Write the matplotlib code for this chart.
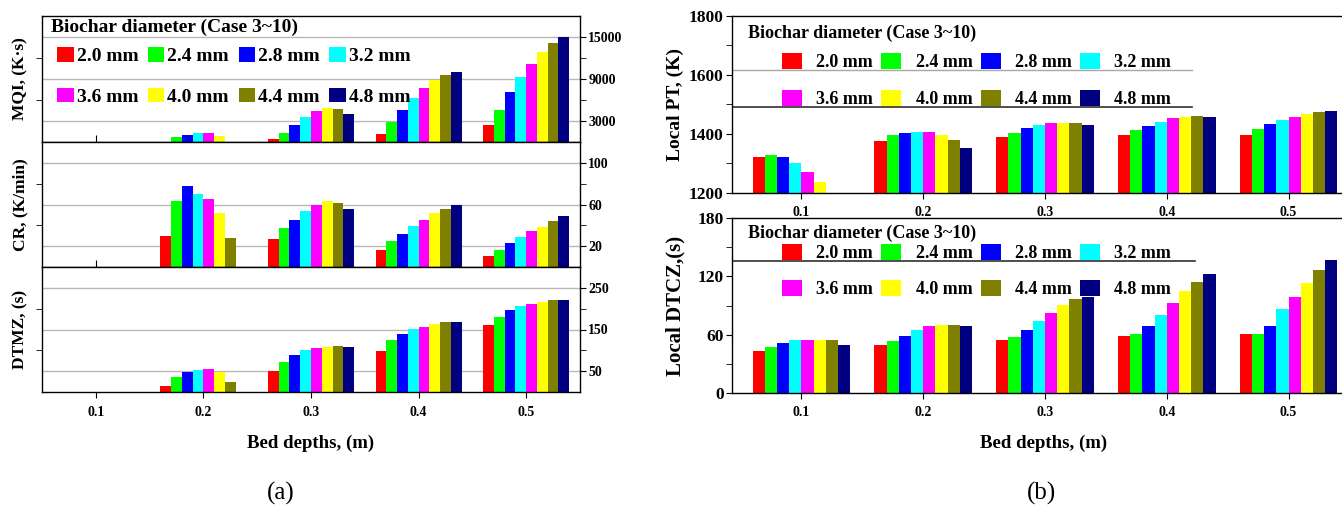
import numpy as np
import matplotlib.pyplot as plt
from matplotlib.ticker import FixedLocator

plt.rcParams['font.family'] = ['Liberation Serif', 'DejaVu Serif']
plt.rcParams['font.weight'] = 'bold'
plt.rcParams['axes.labelweight'] = 'bold'
plt.rcParams['axes.linewidth'] = 1.0

# bed depths (m) and biochar diameters (Case 3~10)
depths = ['0.1', '0.2', '0.3', '0.4', '0.5']
diameters = ['2.0 mm', '2.4 mm', '2.8 mm', '3.2 mm', '3.6 mm', '4.0 mm', '4.4 mm', '4.8 mm']
colors = ['#ff0000', '#00ff00', '#0000ff', '#00ffff', '#ff00ff', '#ffff00', '#808000', '#000080']

nan = np.nan

# (a) MQI, K.s  -- one row per diameter, one column per depth
mqi = [
    [nan, nan, 390, 1160, 2370],
    [nan, 680, 1350, 2850, 4540],
    [nan, 1000, 2370, 4540, 7100],
    [nan, 1300, 3570, 6330, 9320],
    [nan, 1300, 4440, 7780, 11200],
    [nan, 800, 4880, 8890, 12900],
    [nan, nan, 4690, 9570, 14200],
    [nan, nan, 4060, 9950, 15000],
]
# (a) CR, K/min
cr = [
    [nan, 30, 27, 16.8, 10.4],
    [nan, 63, 37.6, 24.8, 16.8],
    [nan, 78, 45.6, 31.5, 22.9],
    [nan, 70, 53.3, 39.2, 28.6],
    [nan, 65, 60, 45.6, 34.7],
    [nan, 51.7, 63.5, 51.7, 38.6],
    [nan, 28, 61, 55.5, 44],
    [nan, nan, 55.5, 59.4, 48.5],
]
# (a) DTMZ, s
dtmz = [
    [nan, 14, 51, 98, 161],
    [nan, 37, 73, 124, 180],
    [nan, 47, 89, 140, 196],
    [nan, 54, 100, 152, 207],
    [nan, 56, 105, 156, 212],
    [nan, 49, 108, 164, 216],
    [nan, 24, 111, 168, 220],
    [nan, nan, 108, 168, 220],
]
# (b) local PT, K
pt = [
    [1321, 1376, 1389, 1395, 1398],
    [1328, 1395, 1405, 1415, 1418],
    [1322, 1405, 1420, 1428, 1435],
    [1303, 1408, 1430, 1442, 1448],
    [1272, 1408, 1436, 1453, 1459],
    [1238, 1395, 1438, 1459, 1469],
    [nan, 1378, 1436, 1462, 1475],
    [nan, 1352, 1429, 1458, 1479],
]
# (b) local DTCZ, s
dtcz = [
    [43, 49, 54.5, 58.6, 60.7],
    [47, 53, 57.3, 60.3, 60.7],
    [51, 58.6, 64.5, 68.6, 68.6],
    [55, 64.8, 74.4, 80.6, 86.7],
    [55, 68.6, 82.3, 92.6, 98.4],
    [55, 70.3, 90.2, 104.6, 113.1],
    [54.5, 70.3, 96.7, 114.2, 126.8],
    [49, 68.6, 98.4, 122.7, 136.8],
]

W, H = 1342, 511
fig = plt.figure(figsize=(W / 100, H / 100), dpi=100)


def px_axes(left, top, right, bottom):
    return fig.add_axes([left / W, 1 - bottom / H, (right - left) / W, (bottom - top) / H])


def draw_bars(ax, table):
    x = np.arange(len(depths))
    bars = []
    for i, vals in enumerate(table):
        b = ax.bar(x + (i - 3.5) * 0.1, vals, width=0.1, color=colors[i], linewidth=0)
        bars.append(b)
    ax.set_xticks(x)
    ax.set_xticklabels(depths)
    return bars


def add_key(ax, bars, title, tx, ty, lx, ly, fs, spacing, hl, hh, pad, colsp):
    ax.text(tx, ty, title, transform=ax.transAxes, fontsize=fs, va='center', ha='left')
    order = [0, 4, 1, 5, 2, 6, 3, 7]
    ax.legend([bars[k] for k in order], [diameters[k] for k in order], ncol=4,
              loc='upper left', bbox_to_anchor=(lx, ly), frameon=False,
              fontsize=fs, borderpad=0, borderaxespad=0, labelspacing=spacing,
              handlelength=hl, handleheight=hh, handletextpad=pad, columnspacing=colsp)


# ---------------- (a) three stacked panels, labels on the right ----------------
a_rows = [(16, 142), (142, 267), (267, 392)]
a_data = [mqi, cr, dtmz]
a_lims = [(0, 18000), (0, 120), (0, 300)]
a_major = [[3000, 9000, 15000], [20, 60, 100], [50, 150, 250]]
a_minor = [[6000, 12000], [40, 80], [100, 200]]
a_names = ['MQI, (K\u00b7s)', 'CR, (K/min)', 'DTMZ, (s)']

axes_a = []
for k, (top, bot) in enumerate(a_rows):
    ax = px_axes(42, top, 580, bot)
    bars = draw_bars(ax, a_data[k])
    ax.set_xlim(-0.5, 4.5)
    ax.set_ylim(*a_lims[k])
    ax.set_yticks(a_major[k])
    ax.yaxis.set_minor_locator(FixedLocator(a_minor[k]))
    ax.tick_params(axis='y', which='both', left=True, right=True, labelleft=False,
                   labelright=True, direction='out', length=4, labelsize=10, pad=2)
    ax.tick_params(axis='y', which='major', left=False)
    ax.grid(axis='y', which='major', color='#b8b8b8', lw=1.0)
    ax.set_axisbelow(True)
    ax.set_ylabel(a_names[k], fontsize=12.5, va='center')
    ax.yaxis.set_label_coords(-0.041, 0.5)
    if k < 2:
        ax.tick_params(axis='x', direction='in', length=5, labelbottom=False)
    else:
        ax.tick_params(axis='x', direction='out', length=4, labelsize=10, pad=6)
        ax.set_xlabel('Bed depths, (m)', fontsize=13.5, va='center')
        ax.xaxis.set_label_coords(0.5, -0.41)
    axes_a.append((ax, bars))

ax0, bars0 = axes_a[0]
add_key(ax0, bars0, 'Biochar diameter (Case 3~10)', 0.017, 0.913, 0.028, 0.75,
        14, 1.15, 0.85, 0.75, 0.15, 0.5)

# ---------------- (b) two panels, labels on the left ----------------
b_rows = [(16, 193), (218, 393)]
b_data = [pt, dtcz]
b_lims = [(1200, 1800), (0, 180)]
b_major = [[1200, 1400, 1600, 1800], [0, 60, 120, 180]]
b_minor = [[1300, 1500, 1700], [30, 90, 150]]
b_names = ['Local PT, (K)', 'Local DTCZ,(s)']
b_label_fs = [14, 15]
b_key_pos = [(0.904, 0.79, 1.05), (0.914, 0.85, 1.0)]

for k, (top, bot) in enumerate(b_rows):
    ax = px_axes(732, top, 1358, bot)
    bars = draw_bars(ax, b_data[k])
    ax.set_xlim(-0.57, 4.57)
    ax.set_ylim(*b_lims[k])
    ax.set_yticks(b_major[k])
    ax.yaxis.set_minor_locator(FixedLocator(b_minor[k]))
    ax.tick_params(axis='y', which='both', direction='out', length=4, labelsize=12.5, pad=2)
    ax.tick_params(axis='x', direction='out', length=4, labelsize=10, pad=5)
    ax.set_ylabel(b_names[k], fontsize=b_label_fs[k], va='center')
    ax.yaxis.set_label_coords(-0.09, 0.5)
    ty, ly, sp = b_key_pos[k]
    add_key(ax, bars, 'Biochar diameter (Case 3~10)', 0.026, ty, 0.08, ly,
            13, sp, 1.1, 0.95, 0.8, 0.45)
    if k == 0:
        ax.axhline(1617, xmax=0.735, color='#a8a8a8', lw=1.0)
        ax.axhline(1493, xmax=0.735, color='#303030', lw=1.2)
    else:
        ax.axhline(136, xmax=0.74, color='#303030', lw=1.2)
        ax.set_xlabel('Bed depths, (m)', fontsize=13.5, va='center')
        ax.xaxis.set_label_coords(0.497, -0.286)

fig.text(281 / W, 1 - 493 / H, '(a)', fontsize=18, fontweight='normal', ha='center', va='center')
fig.text(1042 / W, 1 - 493 / H, '(b)', fontsize=18, fontweight='normal', ha='center', va='center')

fig.savefig('out.png', dpi=100)
